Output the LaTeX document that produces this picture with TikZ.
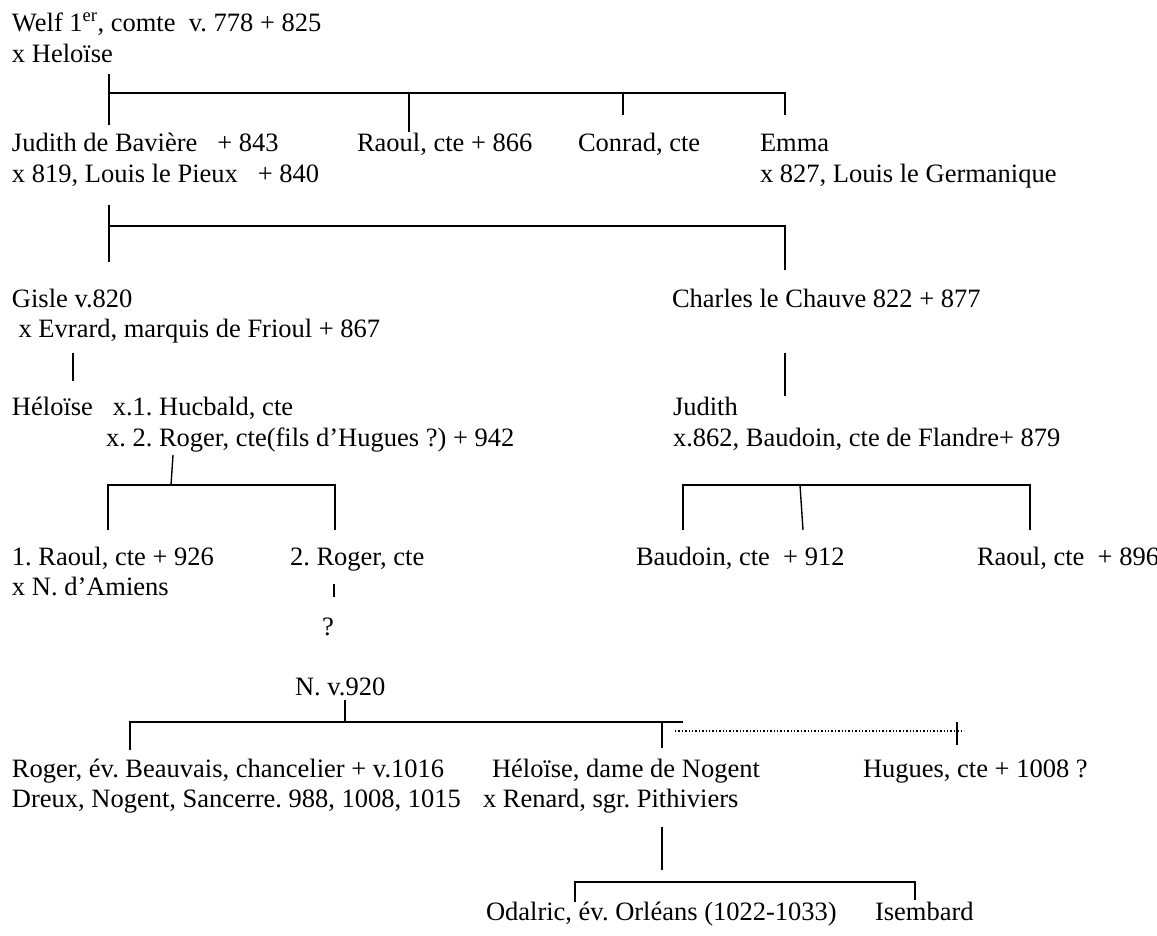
\documentclass[tikz,border=0pt]{standalone}
\usepackage{fontspec}
\setmainfont{Liberation Serif}
\begin{document}
\frenchspacing
\begin{tikzpicture}[x=1pt,y=-1pt,
  every node/.style={anchor=base west,inner sep=0pt,outer sep=0pt,font=\fontsize{26.5pt}{32pt}\selectfont\frenchspacing},
  link/.style={line width=1.4pt,black},
  dotlink/.style={line width=1.4pt,black,dotted}]
\useasboundingbox (0,0) rectangle (1157,935);
% texts
\node (welf) at (12,31) {Welf 1\textsuperscript{er}, comte\ \ v. 778 + 825};
\node (welfx) at (12,62) {x Heloïse};
\node (judith) at (12,151) {Judith de Bavière\ \ \ + 843};
\node (judithx) at (12,182) {x 819, Louis le Pieux\ \ \ + 840};
\node (raoulA) at (357,151) {Raoul, cte + 866};
\node (conrad) at (578,151) {Conrad, cte};
\node (emma) at (760,151) {Emma};
\node (emmax) at (760,182) {x 827, Louis le Germanique};
\node (gisle) at (12,307) {Gisle v.820};
\node (gislex) at (12,337) {\ x Evrard, marquis de Frioul + 867};
\node (charles) at (672,307) {Charles le Chauve 822 + 877};
\node (heloiseA) at (12,415) {Héloïse\ \ \ x.1. Hucbald, cte};
\node (heloiseAx) at (106,446) {x. 2. Roger, cte(fils d’Hugues ?) + 942};
\node (judithB) at (673,415) {Judith};
\node (judithBx) at (673,446) {x.862, Baudoin, cte de Flandre+ 879};
\node (raoulB) at (12,565) {1. Raoul, cte + 926};
\node (raoulBx) at (12,595) {x N. d’Amiens};
\node (roger) at (290,565) {2. Roger, cte};
\node (baudoin) at (636,565) {Baudoin, cte\ \ + 912};
\node (raoulC) at (977,565) {Raoul, cte\ \ + 896};
\node (quest) at (322,635) {?};
\node (nn) at (295,695) {N. v.920};
\node (rogerB) at (12,777) {Roger, év. Beauvais, chancelier + v.1016};
\node (rogerBx) at (12,807) {Dreux, Nogent, Sancerre. 988, 1008, 1015};
\node (heloiseB) at (492,777) {Héloïse, dame de Nogent};
\node (heloiseBx) at (483,807) {x Renard, sgr. Pithiviers};
\node (hugues) at (863,777) {Hugues, cte + 1008 ?};
\node (odalric) at (486,920) {Odalric, év. Orléans (1022-1033)};
\node (isembard) at (875,920) {Isembard};
% bracket 1
\coordinate (b1a) at (109,74);  \coordinate (b1b) at (109,125);
\coordinate (b1l) at (109,93);  \coordinate (b1r) at (785,93);
\coordinate (b1c) at (409,93);  \coordinate (b1cd) at (409,132);
\coordinate (b1e) at (623,93);  \coordinate (b1ed) at (623,115);
\coordinate (b1fd) at (785,115);
\draw[link] (b1a) -- (b1b);
\draw[link] (b1l) -- (b1r) -- (b1fd);
\draw[link] (b1c) -- (b1cd);
\draw[link] (b1e) -- (b1ed);
% bracket 2
\coordinate (b2a) at (109,205); \coordinate (b2b) at (109,262);
\coordinate (b2l) at (109,226); \coordinate (b2r) at (785,226);
\coordinate (b2rd) at (785,270);
\draw[link] (b2a) -- (b2b);
\draw[link] (b2l) -- (b2r) -- (b2rd);
% single descents
\coordinate (g1) at (73,353); \coordinate (g2) at (73,381);
\draw[link] (g1) -- (g2);
\coordinate (c1) at (785,353); \coordinate (c2) at (785,396);
\draw[link] (c1) -- (c2);
% bracket 3
\coordinate (s1) at (173,455); \coordinate (s2) at (171,485);
\coordinate (b3l) at (108,485); \coordinate (b3ld) at (108,530);
\coordinate (b3r) at (335,485); \coordinate (b3rd) at (335,530);
\draw[link] (s1) -- (s2);
\draw[link] (b3ld) -- (b3l) -- (b3r) -- (b3rd);
% bracket 4
\coordinate (b4l) at (683,485); \coordinate (b4ld) at (683,530);
\coordinate (b4m) at (800,485); \coordinate (b4md) at (803,530);
\coordinate (b4r) at (1030,485); \coordinate (b4rd) at (1030,530);
\draw[link] (b4ld) -- (b4l) -- (b4r) -- (b4rd);
\draw[link] (b4m) -- (b4md);
% roger -> ?
\coordinate (r1) at (334,584); \coordinate (r2) at (334,597);
\draw[link] (r1) -- (r2);
% bracket 5
\coordinate (n1) at (345,700); \coordinate (n2) at (345,722);
\coordinate (b5l) at (130,722); \coordinate (b5ld) at (130,750);
\coordinate (b5r) at (683,722);
\coordinate (b5m) at (662,722); \coordinate (b5md) at (662,748);
\coordinate (d1) at (675,731); \coordinate (d2) at (964,731);
\coordinate (d3) at (957,722); \coordinate (d4) at (957,745);
\draw[link] (n1) -- (n2);
\draw[link] (b5ld) -- (b5l) -- (b5r);
\draw[link] (b5m) -- (b5md);
\draw[dotlink] (d1) -- (d2);
\draw[link] (d3) -- (d4);
% bracket 6
\coordinate (h1) at (662,827); \coordinate (h2) at (662,870);
\coordinate (b6l) at (575,882); \coordinate (b6ld) at (575,902);
\coordinate (b6r) at (915,882); \coordinate (b6rd) at (915,900);
\draw[link] (h1) -- (h2);
\draw[link] (b6ld) -- (b6l) -- (b6r) -- (b6rd);
\end{tikzpicture}
\end{document}
